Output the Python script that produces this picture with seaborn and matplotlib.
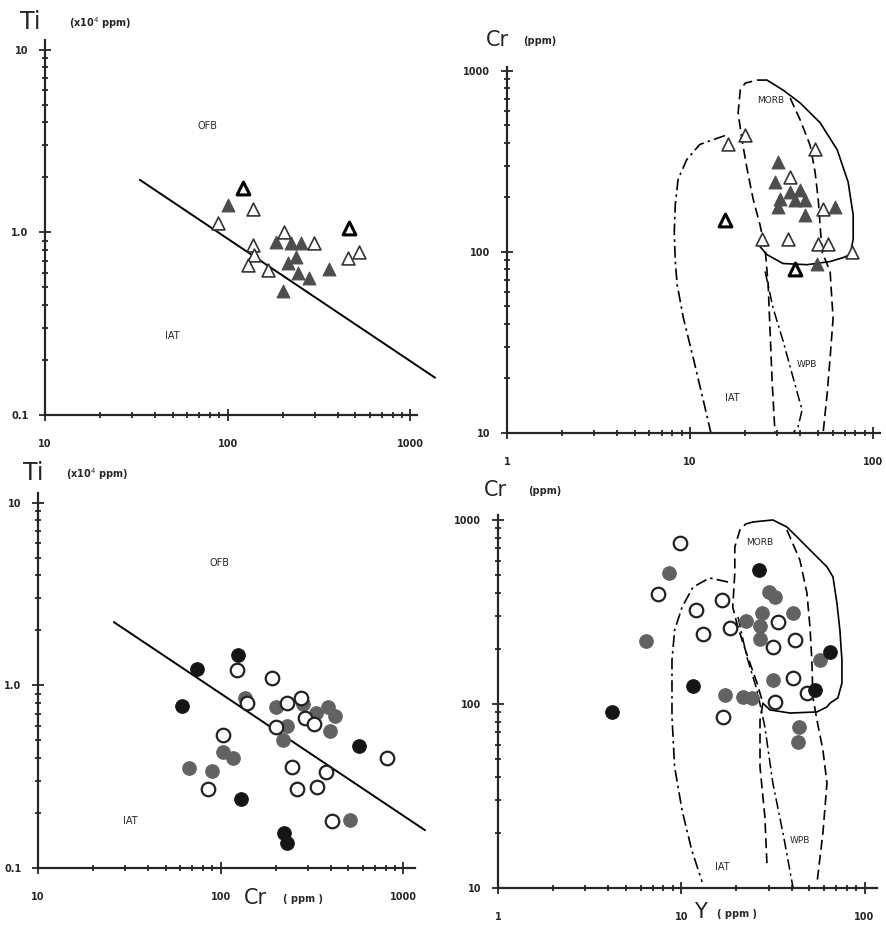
import numpy as np
import matplotlib
matplotlib.use("Agg")
import matplotlib.pyplot as plt
from matplotlib.ticker import LogLocator, NullFormatter
import seaborn as sns

# --- (a) Ti vs Cr, triangles ---
a_open_cr = [137, 89, 203, 137, 139, 129, 166, 297, 525, 456]
a_open_ti = [1.34, 1.12, 1.0, 0.85, 0.75, 0.66, 0.62, 0.87, 0.78, 0.72]
a_bold_cr = [122, 462]
a_bold_ti = [1.75, 1.05]
a_fill_cr = [100, 184, 222, 252, 236, 214, 243, 279, 359, 200]
a_fill_ti = [1.41, 0.88, 0.87, 0.87, 0.73, 0.68, 0.60, 0.56, 0.63, 0.48]
a_line_cr = [33, 1365]
a_line_ti = [1.94, 0.16]

# --- (b) Cr vs Y, triangles ---
b_open_y = [16.1, 20.0, 48.2, 35.2, 24.7, 34.3, 53.3, 50.1, 56.8, 76.8]
b_open_cr = [392, 444, 368, 258, 118, 118, 173, 111, 111, 100]
b_bold_y = [15.5, 37.5]
b_bold_cr = [150, 80]
b_fill_y = [30.3, 29.1, 35.2, 39.9, 31.0, 37.5, 42.5, 30.3, 42.5, 62.0, 49.4]
b_fill_cr = [312, 243, 214, 219, 196, 193, 193, 177, 160, 177, 86]

# --- (c) Ti vs Cr, circles ---
c_black_cr = [124, 74, 61, 571, 129, 222, 231]
c_black_ti = [1.47, 1.23, 0.77, 0.466, 0.239, 0.156, 0.137]
c_gray_cr = [136, 201, 282, 332, 387, 422, 396, 231, 219, 103, 117, 67, 90, 510]
c_gray_ti = [0.85, 0.76, 0.79, 0.705, 0.76, 0.68, 0.562, 0.60, 0.502, 0.431,
             0.40, 0.353, 0.34, 0.183]
c_open_cr = [123, 191, 139, 231, 275, 289, 324, 201, 103, 813, 246, 377, 85,
             262, 337, 407]
c_open_ti = [1.21, 1.10, 0.80, 0.80, 0.85, 0.66, 0.614, 0.59, 0.535, 0.40,
             0.357, 0.335, 0.27, 0.27, 0.277, 0.181]
c_line_cr = [26, 1312]
c_line_ti = [2.22, 0.161]

# --- (d) Cr vs Y, circles ---
d_black_y = [4.19, 11.6, 26.5, 53.6, 64.8]
d_black_cr = [90.5, 125, 535, 119, 192]
d_gray_y = [8.57, 6.42, 30.1, 32.5, 22.5, 27.6, 26.9, 26.9, 40.7, 57.1, 31.6,
            17.3, 21.7, 24.3, 43.9, 43.3]
d_gray_cr = [515, 220, 406, 382, 282, 312, 265, 225, 312, 173, 135, 112, 109,
             108, 75, 62]
d_open_y = [9.84, 7.46, 12.0, 16.7, 18.4, 13.1, 33.7, 31.6, 41.7, 40.7, 48.5,
            32.5, 16.9]
d_open_cr = [750, 396, 324, 367, 259, 240, 279, 204, 223, 138, 115, 102.5, 85]

# --- Cr-Y field boundaries, panel b ---
b_iat_y = [15.5, 13.4, 11.3, 9.6, 8.6, 8.3, 8.2, 8.3, 8.5, 9.2, 10.4, 11.8, 13.0]
b_iat_cr = [439, 417, 392, 324, 252, 182, 129, 88.5, 66, 43, 26, 15.2, 10]
b_morb_dash_y = [26.3, 23.2, 20.0, 18.8, 18.3, 19.2, 20.5, 22.1, 24.1, 25.7,
                 26.7, 27.4, 28.1, 29.1]
b_morb_dash_cr = [889, 889, 855, 783, 586, 417, 286, 196, 141, 104, 66, 35,
                  18.8, 10]
b_morb_y = [26.3, 32.2, 39.9, 51.3, 63.6, 73.0, 77.8, 77.8, 74.9, 68.5, 58.2,
            43.6, 32.2, 26.3, 24.1]
b_morb_cr = [889, 783, 665, 517, 367, 243, 160, 118, 96.6, 93, 88.5, 85, 86.3,
             96.6, 107]
b_wpb_dash_y = [35.2, 39.9, 45.3, 48.2, 50.1, 51.3, 52.6, 58.2, 60.4, 58.2,
                56.1, 53.3]
b_wpb_dash_cr = [708, 537, 387, 275, 196, 141, 100, 78, 43, 26, 16.6, 10]
b_wpb_dd_y = [25.7, 28.4, 32.2, 36.5, 40.9, 38.9, 36.5]
b_wpb_dd_cr = [78, 49, 32.3, 20.3, 13.4, 10.8, 10]

# --- Cr-Y field boundaries, panel d ---
d_iat_y = [18.0, 14.3, 11.6, 10.1, 9.2, 8.9, 8.9, 8.9, 9.2, 10.1, 11.4, 13.0]
d_iat_cr = [460, 484, 432, 336, 252, 173, 109, 85, 45.5, 26.5, 16.1, 10.8]
d_morb_dash_y = [24.6, 22.5, 20.9, 19.6, 19.6, 19.1, 20.1, 21.7, 23.7, 25.9,
                 27.9, 26.9, 26.9, 28.6, 29.4]
d_morb_dash_cr = [975, 951, 883, 713, 515, 336, 275, 215, 167, 130, 101, 81.8,
                  45.5, 24.3, 13]
d_morb_y = [24.6, 31.6, 37.7, 42.8, 50.4, 62.4, 67.3, 70.7, 73.4, 75.3, 75.3,
            71.6, 64.8, 62.4, 55.0, 39.2, 30.5, 27.9]
d_morb_cr = [975, 1000, 916, 809, 687, 556, 490, 354, 252, 173, 130, 108, 101,
             96.4, 90.5, 89.3, 92.8, 101]
d_wpb_dash_y = [37.7, 44.4, 48.5, 50.4, 51.6, 52.3, 55.0, 59.3, 62.4, 59.3, 55.0]
d_wpb_dash_cr = [883, 606, 401, 262, 173, 109, 81.8, 56.2, 37.2, 19.9, 10.6]
d_wpb_dd_y = [20.4, 22.8, 25.9, 28.6, 31.6, 35.9, 40.7]
d_wpb_dd_cr = [297, 180, 119, 75, 37.2, 19.9, 10.1]

W, H = 887, 925
DASH = (0, (6, 3))
DASHDOT = (0, (7, 2.5, 1.5, 2.5))

sns.set_style("ticks")
plt.rcParams['font.family'] = ['DejaVu Sans']

fig = plt.figure(figsize=(W / 100, H / 100), dpi=100)


def add_panel(left, top, right, bottom):
    return fig.add_axes([left / W, 1 - bottom / H, (right - left) / W,
                         (bottom - top) / H])


def style_axis(ax, xlim, ylim, xticks, xlabels, yticks, ylabels):
    ax.set_xscale('log')
    ax.set_yscale('log')
    ax.set_xlim(*xlim)
    ax.set_ylim(*ylim)
    ax.set_xticks(xticks, labels=xlabels)
    ax.set_yticks(yticks, labels=ylabels)
    for axis in (ax.xaxis, ax.yaxis):
        axis.set_minor_locator(LogLocator(base=10, subs=np.arange(2, 10)))
        axis.set_minor_formatter(NullFormatter())
    ax.tick_params(which='both', direction='inout', width=1.1, color='black')
    ax.tick_params(which='major', length=8)
    ax.tick_params(which='minor', length=5)
    ax.tick_params(axis='x', pad=13, labelsize=7)
    ax.tick_params(axis='y', pad=8, labelsize=7)
    for lab in ax.get_xticklabels() + ax.get_yticklabels():
        lab.set_fontweight('bold')
    sns.despine(ax=ax)
    for side in ('left', 'bottom'):
        ax.spines[side].set_linewidth(1.6)
    ax.set_facecolor('none')


def ftext(px, py, s, **kw):
    fig.text(px / W, 1 - py / H, s, ha='center', va='center', **kw)


def scatter(ax, x, y, marker, face, edge, lw, s):
    sns.scatterplot(x=x, y=y, ax=ax, marker=marker, s=s, color=face,
                    edgecolor=edge, linewidth=lw, zorder=3, legend=False)


TRI = 85
CIR = 95

# panel a
ax_a = add_panel(45, 40, 417, 415)
ax_a.plot(a_line_cr, a_line_ti, color='black', lw=1.4, clip_on=False, zorder=2)
scatter(ax_a, a_fill_cr, a_fill_ti, '^', '#4d4d4d', '#4d4d4d', 0.8, TRI)
scatter(ax_a, a_open_cr, a_open_ti, '^', 'white', '#333333', 1.2, TRI)
scatter(ax_a, a_bold_cr, a_bold_ti, '^', 'white', 'black', 2.2, TRI)
style_axis(ax_a, (10, 1087), (0.1, 11.3), [10, 100, 1000],
           ['10', '100', '1000'], [0.1, 1, 10], ['0.1', '1.0', '10'])
ax_a.text(78, 3.8, 'OFB', fontsize=7, ha='center', va='center')
ax_a.text(50, 0.27, 'IAT', fontsize=7, ha='center', va='center')

# panel b
ax_b = add_panel(507, 67, 880, 433)
ax_b.plot(b_iat_y, b_iat_cr, color='black', lw=1.2, ls=DASHDOT)
ax_b.plot(b_morb_dash_y, b_morb_dash_cr, color='black', lw=1.2, ls=DASH)
ax_b.plot(b_morb_y, b_morb_cr, color='black', lw=1.2)
ax_b.plot(b_wpb_dash_y, b_wpb_dash_cr, color='black', lw=1.2, ls=DASH)
ax_b.plot(b_wpb_dd_y, b_wpb_dd_cr, color='black', lw=1.1, ls=DASHDOT)
scatter(ax_b, b_fill_y, b_fill_cr, '^', '#4d4d4d', '#4d4d4d', 0.8, TRI)
scatter(ax_b, b_open_y, b_open_cr, '^', 'white', '#333333', 1.2, TRI)
scatter(ax_b, b_bold_y, b_bold_cr, '^', 'white', 'black', 2.2, TRI)
style_axis(ax_b, (1, 109), (10, 1050), [1, 10, 100], ['1', '10', '100'],
           [10, 100, 1000], ['10', '100', '1000'])
ax_b.text(27.4, 682, 'MORB', fontsize=6.5, ha='center', va='center')
ax_b.text(43.6, 24, 'WPB', fontsize=6.5, ha='center', va='center')
ax_b.text(17, 15.7, 'IAT', fontsize=7, ha='center', va='center')

# panel c
ax_c = add_panel(38, 493, 415, 868)
ax_c.plot(c_line_cr, c_line_ti, color='black', lw=1.4, clip_on=False, zorder=2)
scatter(ax_c, c_gray_cr, c_gray_ti, 'o', '#626262', '#626262', 0.8, CIR)
scatter(ax_c, c_open_cr, c_open_ti, 'o', 'white', '#222222', 1.6, CIR)
scatter(ax_c, c_black_cr, c_black_ti, 'o', '#151515', '#151515', 0.8, CIR)
style_axis(ax_c, (10, 1156), (0.1, 11.3), [10, 100, 1000],
           ['10', '100', '1000'], [0.1, 1, 10], ['0.1', '1.0', '10'])
ax_c.text(99, 4.7, 'OFB', fontsize=7, ha='center', va='center')
ax_c.text(32, 0.18, 'IAT', fontsize=7, ha='center', va='center')

# panel d
ax_d = add_panel(498, 515, 877, 888)
ax_d.plot(d_iat_y, d_iat_cr, color='black', lw=1.2, ls=DASHDOT)
ax_d.plot(d_morb_dash_y, d_morb_dash_cr, color='black', lw=1.2, ls=DASH)
ax_d.plot(d_morb_y, d_morb_cr, color='black', lw=1.2)
ax_d.plot(d_wpb_dash_y, d_wpb_dash_cr, color='black', lw=1.2, ls=DASH)
ax_d.plot(d_wpb_dd_y, d_wpb_dd_cr, color='black', lw=1.1, ls=DASHDOT)
scatter(ax_d, d_gray_y, d_gray_cr, 'o', '#626262', '#626262', 0.8, CIR)
scatter(ax_d, d_open_y, d_open_cr, 'o', 'white', '#222222', 1.6, CIR)
scatter(ax_d, d_black_y, d_black_cr, 'o', '#151515', '#151515', 0.8, CIR)
style_axis(ax_d, (1, 117), (10, 1064), [1, 10, 100], ['1', '10', '100'],
           [10, 100, 1000], ['10', '100', '1000'])
ax_d.text(26.9, 750, 'MORB', fontsize=6.5, ha='center', va='center')
ax_d.text(44.4, 18.2, 'WPB', fontsize=6.5, ha='center', va='center')
ax_d.text(16.7, 13, 'IAT', fontsize=7, ha='center', va='center')

# axis titles
ftext(30, 22, 'Ti', fontsize=17)
ftext(100, 23, '(x10$^4$ ppm)', fontsize=7, fontweight='bold')
ftext(497, 40, 'Cr', fontsize=15)
ftext(540, 41, '(ppm)', fontsize=7, fontweight='bold')
ftext(33, 473, 'Ti', fontsize=17)
ftext(97, 474, '(x10$^4$ ppm)', fontsize=7, fontweight='bold')
ftext(495, 490, 'Cr', fontsize=15)
ftext(545, 491, '(ppm)', fontsize=7, fontweight='bold')
ftext(255, 898, 'Cr', fontsize=15)
ftext(303, 899, '( ppm )', fontsize=7, fontweight='bold')
ftext(700, 912, 'Y', fontsize=15)
ftext(737, 914, '( ppm )', fontsize=7, fontweight='bold')

fig.savefig('out.png', dpi=100, facecolor='white')
